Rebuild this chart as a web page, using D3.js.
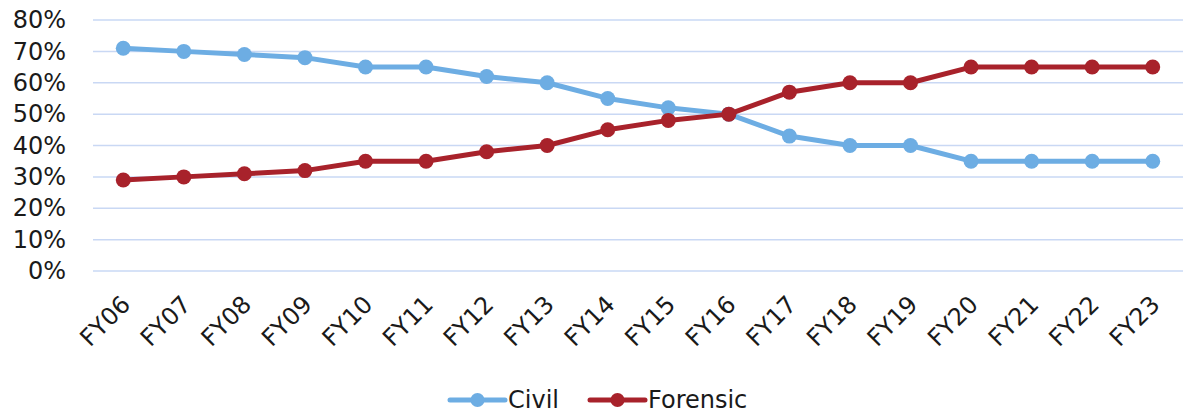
<!DOCTYPE html>
<html>
<head>
<meta charset="utf-8">
<script src="https://cdn.jsdelivr.net/npm/d3@7"></script>
<style>
  body { margin: 0; background: #fff; }
  text { font-family: "DejaVu Sans", Verdana, sans-serif; fill: #1a1a1a; }
</style>
</head>
<body>
<div id="chart"></div>
<script>
var years = ["FY06", "FY07", "FY08", "FY09", "FY10", "FY11", "FY12", "FY13", "FY14",
  "FY15", "FY16", "FY17", "FY18", "FY19", "FY20", "FY21", "FY22", "FY23"];
var civil = [71, 70, 69, 68, 65, 65, 62, 60, 55, 52, 50, 43, 40, 40, 35, 35, 35, 35];
var forensic = [29, 30, 31, 32, 35, 35, 38, 40, 45, 48, 50, 57, 60, 60, 65, 65, 65, 65];
var yTicks = [0, 10, 20, 30, 40, 50, 60, 70, 80];

var series = [
  { name: "Civil", values: civil, color: "#6dade3" },
  { name: "Forensic", values: forensic, color: "#a8222b" }
];

var W = 1183, H = 413;
var margin = { top: 20, right: 0, bottom: 142, left: 93 },
  width = W - margin.left - margin.right,
  height = H - margin.top - margin.bottom;

var svg = d3.select("#chart").append("svg")
  .attr("width", W)
  .attr("height", H);

var g = svg.append("g")
  .attr("transform", "translate(" + margin.left + "," + margin.top + ")");

var x = d3.scalePoint()
  .domain(years)
  .range([0, width])
  .padding(0.5);

var y = d3.scaleLinear()
  .domain([0, 80])
  .range([height, 0]);

// gridlines
g.selectAll(".grid")
  .data(yTicks)
  .enter().append("line")
  .attr("x1", 0)
  .attr("x2", width)
  .attr("y1", d => y(d))
  .attr("y2", d => y(d))
  .attr("stroke", "#c9d8f4")
  .attr("stroke-width", 1.5);

// y axis
var yAxis = d3.axisLeft(y)
  .tickValues(yTicks)
  .tickFormat(d => d + "%")
  .tickSize(0)
  .tickPadding(27);

g.append("g").call(yAxis)
  .call(a => a.select(".domain").remove())
  .selectAll("text")
  .attr("font-size", "24px")
  .attr("font-family", "DejaVu Sans, Verdana, sans-serif")
  .attr("fill", "#1a1a1a");

// x axis
var xAxis = d3.axisBottom(x).tickSize(0).tickPadding(0);
g.append("g")
  .attr("transform", "translate(0," + height + ")")
  .call(xAxis)
  .call(a => a.select(".domain").remove())
  .selectAll("text")
  .attr("font-size", "24px")
  .attr("font-family", "DejaVu Sans, Verdana, sans-serif")
  .attr("fill", "#1a1a1a")
  .attr("text-anchor", "end")
  .attr("dy", "0")
  .attr("transform", "translate(8,35) rotate(-45)");

// lines
var line = d3.line()
  .x((d, i) => x(years[i]))
  .y(d => y(d));

series.forEach(s => {
  g.append("path")
    .datum(s.values)
    .attr("fill", "none")
    .attr("stroke", s.color)
    .attr("stroke-width", 5)
    .attr("stroke-linejoin", "round")
    .attr("d", line);

  g.selectAll(".dot-" + s.name)
    .data(s.values)
    .enter().append("circle")
    .attr("cx", (d, i) => x(years[i]))
    .attr("cy", d => y(d))
    .attr("r", 7.5)
    .attr("fill", s.color);
});

// legend
var legend = svg.append("g").attr("transform", "translate(450,400)");
var lx = 0;
series.forEach(s => {
  var item = legend.append("g").attr("transform", "translate(" + lx + ",0)");
  item.append("line")
    .attr("x1", 0).attr("x2", 55)
    .attr("y1", 0).attr("y2", 0)
    .attr("stroke", s.color)
    .attr("stroke-width", 5)
    .attr("stroke-linecap", "round");
  item.append("circle")
    .attr("cx", 27.5).attr("cy", 0).attr("r", 7)
    .attr("fill", s.color);
  item.append("text")
    .attr("x", 58)
    .attr("y", 0)
    .attr("dy", "0.35em")
    .attr("font-size", "24px")
    .text(s.name);
  lx += 140;
});
</script>
</body>
</html>
